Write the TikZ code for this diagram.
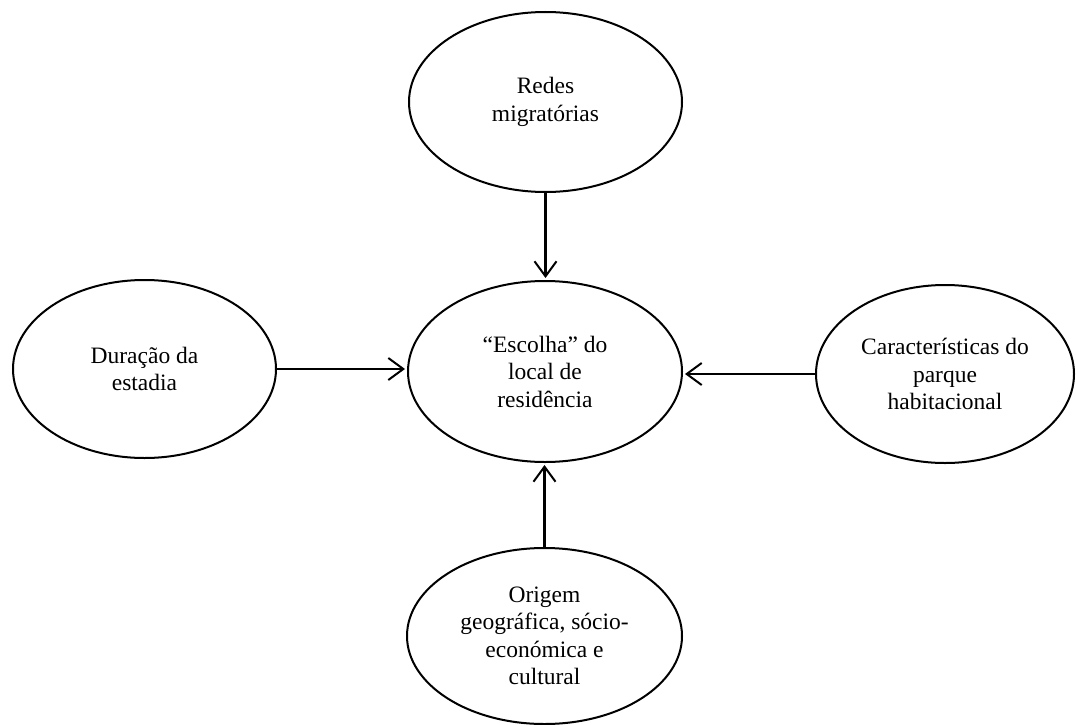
\documentclass[tikz,border=0pt]{standalone}
\usepackage{fontspec}
\setmainfont{Liberation Serif}
\usetikzlibrary{shapes.geometric,arrows.meta}
\begin{document}
\begin{tikzpicture}[x=1pt,y=-1pt,
  oval/.style={ellipse,draw=black,line width=2pt,inner sep=0pt,align=center,
    font=\fontsize{23.5}{27.5}\selectfont},
  link/.style={line width=2.2pt,-{Straight Barb[length=15pt,width=22pt,line width=2pt]},shorten >=2pt}]
\useasboundingbox (0,0) rectangle (1076,725);
\node[oval,minimum width=273pt,minimum height=180pt] (t) at (545.5,102) {Redes\\migratórias};
\node[oval,minimum width=274pt,minimum height=181pt] (c) at (545,371.5) {“Escolha” do\\local de\\residência};
\node[oval,minimum width=263pt,minimum height=178pt] (l) at (144.5,369) {Duração da\\estadia};
\node[oval,minimum width=258pt,minimum height=178pt] (r) at (945,374) {Características do\\parque\\habitacional};
\node[oval,minimum width=275pt,minimum height=176pt] (b) at (544.5,636) {Origem\\geográfica, sócio-\\económica e\\cultural};
\draw[link] (t.south) -- (t.south |- c.north);
\draw[link] (b.north) -- (b.north |- c.south);
\draw[link] (l.east) -- (l.east -| c.west);
\draw[link] (r.west) -- (r.west -| c.east);
\end{tikzpicture}
\end{document}
